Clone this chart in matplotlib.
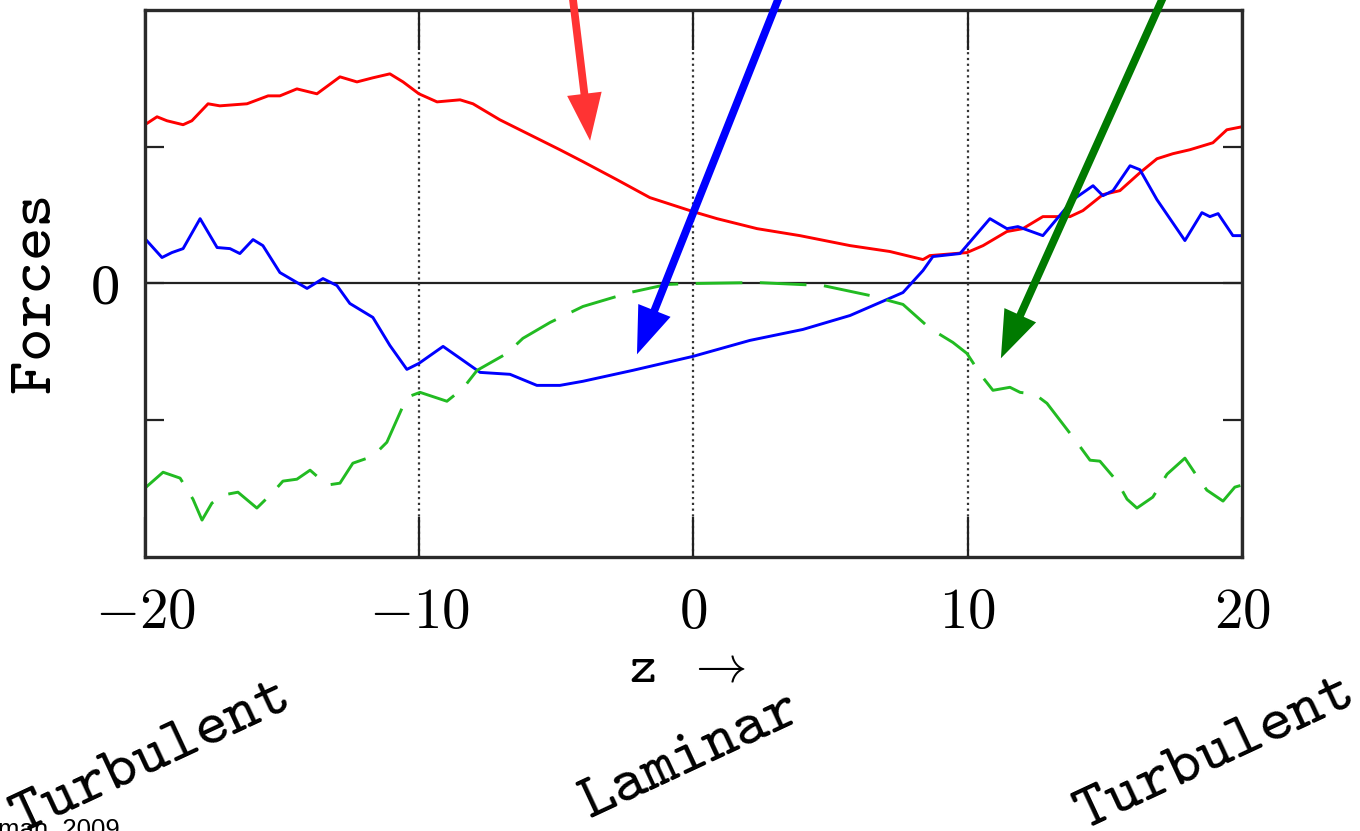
#!/usr/bin/env python3
"""
Forces vs z across a turbulent / laminar / turbulent layer.

Three force profiles (red, blue, green dashed) with arrows pointing at
each curve and the regions labelled underneath.
"""
import matplotlib
matplotlib.use('Agg')
import matplotlib.pyplot as plt

plt.rcParams['mathtext.fontset'] = 'cm'

# red curve
z_red = [-20.00, -19.56, -19.20, -18.61, -18.29, -17.70, -17.27, -16.28, -15.51,
         -15.08, -14.46, -13.73, -12.89, -12.27, -11.69, -11.07, -10.59, -10.01,
         -9.35, -8.51, -8.04, -7.06, -6.33, -4.87, -4.03, -2.79, -1.59, -0.02,
         0.86, 2.32, 3.88, 5.71, 7.16, 8.37, 8.62, 9.97, 10.56, 11.43, 12.01,
         12.74, 13.73, 14.20, 14.93, 15.55, 16.28, 16.90, 17.48, 18.10, 18.94,
         19.45, 20.00]
f_red = [1.161, 1.219, 1.190, 1.161, 1.190, 1.314, 1.299, 1.314, 1.372,
         1.372, 1.423, 1.387, 1.511, 1.474, 1.504, 1.533, 1.474, 1.387,
         1.328, 1.343, 1.314, 1.197, 1.124, 0.978, 0.891, 0.759, 0.628, 0.526,
         0.474, 0.401, 0.350, 0.277, 0.234, 0.175, 0.204, 0.226, 0.277, 0.380, 0.401,
         0.489, 0.489, 0.533, 0.650, 0.679, 0.810, 0.912, 0.949, 0.978, 1.029,
         1.124, 1.146]

# blue curve
z_blue = [-20.00, -19.38, -19.02, -18.61, -17.99, -17.37, -16.90, -16.54, -16.06,
          -15.70, -15.08, -14.09, -13.51, -13.00, -12.53, -11.69, -11.07, -10.45,
          -10.01, -9.13, -8.51, -7.78, -6.69, -5.71, -4.87, -4.03, -2.21, -0.02,
          2.06, 3.99, 5.71, 7.64, 8.37, 8.73, 9.72, 10.81, 11.43, 11.83, 12.74,
          13.84, 14.57, 14.93, 15.30, 15.92, 16.28, 16.90, 17.92, 18.54, 18.83,
          19.13, 19.67, 20.00]
f_blue = [0.328, 0.190, 0.226, 0.255, 0.474, 0.263, 0.255, 0.219, 0.321,
          0.277, 0.080, -0.036, 0.036, -0.015, -0.146, -0.248, -0.453, -0.628,
          -0.584, -0.460, -0.547, -0.650, -0.664, -0.745, -0.745, -0.715, -0.635, -0.533,
          -0.416, -0.336, -0.234, -0.066, 0.095, 0.197, 0.219, 0.474, 0.401, 0.416, 0.350,
          0.613, 0.715, 0.642, 0.679, 0.861, 0.832, 0.613, 0.314, 0.518, 0.489,
          0.511, 0.350, 0.350]

# green dashed curve
z_green = [-20.00, -19.34, -18.72, -18.25, -17.92, -17.56, -17.16, -16.61, -15.92,
           -15.33, -14.97, -14.46, -13.98, -13.36, -12.89, -12.42, -11.69, -11.18,
           -10.45, -9.97, -8.99, -8.40, -7.89, -6.80, -6.22, -5.23, -4.03, -2.32,
           -0.97, -0.02, 2.32, 4.72, 6.44, 7.64, 8.62, 9.46, 9.97, 10.52, 10.92,
           11.54, 11.91, 12.45, 12.89, 13.98, 14.46, 14.82, 15.44, 15.81, 16.17,
           16.75, 17.27, 17.92, 18.36, 18.72, 19.31, 19.74, 20.00]
f_green = [-1.496, -1.380, -1.423, -1.577, -1.730, -1.606, -1.547, -1.526, -1.642,
           -1.526, -1.445, -1.431, -1.365, -1.474, -1.460, -1.314, -1.263, -1.161,
           -0.832, -0.796, -0.861, -0.766, -0.635, -0.511, -0.401, -0.285, -0.168, -0.066,
           -0.007, 0.0, 0.007, -0.015, -0.088, -0.153, -0.328, -0.431, -0.511, -0.679, -0.781,
           -0.759, -0.796, -0.810, -0.876, -1.161, -1.292, -1.299, -1.445, -1.577, -1.642,
           -1.562, -1.394, -1.277, -1.409, -1.511, -1.591, -1.489, -1.474]

x_ticks = [-20, -10, 0, 10, 20]
x_tick_labels = [r'$\mathtt{-20}$', r'$\mathtt{-10}$', r'$\mathtt{0}$',
                 r'$\mathtt{10}$', r'$\mathtt{20}$']
regions = ['Turbulent', 'Laminar', 'Turbulent']

# arrows: (tail, tip) in data coords, tails sit above the frame
arrow_tails = [(-4.48, 2.22), (3.37, 2.22), (17.41, 2.22)]
arrow_tips = [(-3.77, 1.044), (-2.06, -0.518), (11.21, -0.547)]
arrow_colors = ['#ff3333', '#0000ff', '#007a00']


def main():
    fig = plt.figure(figsize=(13.6, 8.31), dpi=100)
    ax = fig.add_axes([0.1066, 0.3297, 0.8066, 0.6583])

    ax.plot(z_red, f_red, color='#ff0000', lw=2.1)
    ax.plot(z_blue, f_blue, color='#0000ff', lw=2.1)
    ax.plot(z_green, f_green, color='#22bb22', lw=2.1, dashes=(16, 6))

    ax.axhline(0, color='#222222', lw=1.6, zorder=1)
    for xv in (-10, 0, 10):
        ax.axvline(xv, color='#333333', lw=1.6, linestyle=(0, (1, 1.6)), zorder=1)

    ax.set_xlim(-20, 20)
    ax.set_ylim(-2, 2)
    ax.set_xticks(x_ticks, x_tick_labels)
    ax.set_yticks([-1, 0, 1], ['', '0', ''])
    ax.tick_params(axis='x', direction='in', top=True, length=29, width=1.6,
                   color='#222222', labelsize=41, pad=20)
    ax.tick_params(axis='y', direction='in', right=True, length=14, width=1.6,
                   color='#222222', labelsize=42, pad=18)
    for lbl in ax.get_yticklabels():
        lbl.set_fontfamily('Liberation Serif')
    for s in ax.spines.values():
        s.set_linewidth(2.4)
        s.set_color('#2a2a2a')

    for (tx, ty), (hx, hy), c in zip(arrow_tails, arrow_tips, arrow_colors):
        ax.annotate('', xy=(hx, hy), xytext=(tx, ty),
                    arrowprops=dict(arrowstyle='simple,head_length=1.7,head_width=1.25,tail_width=0.28',
                                    mutation_scale=20, color=c, lw=0,
                                    shrinkA=0, shrinkB=0),
                    annotation_clip=False, zorder=5)

    W, H = 1360, 831
    fig.text(33 / W, 1 - 295 / H, r'$\mathtt{Forces}$', rotation=90,
             ha='center', va='center', fontsize=46)
    fig.text(687 / W, 1 - 668 / H, r'$\mathtt{z}\ \ \rightarrow$',
             ha='center', va='center', fontsize=37)

    for name, (px, py) in zip(regions, [(148, 755), (688, 753), (1212, 751)]):
        fig.text(px / W, 1 - py / H, r'$\mathtt{%s}$' % name, rotation=25,
                 rotation_mode='anchor', ha='center', va='center', fontsize=46)

    fig.text(-2 / W, 1 - 836 / H, 'man, 2009', family='Liberation Sans',
             fontsize=18.5, ha='left', va='baseline')

    fig.savefig('out.png', dpi=100)


if __name__ == '__main__':
    main()
